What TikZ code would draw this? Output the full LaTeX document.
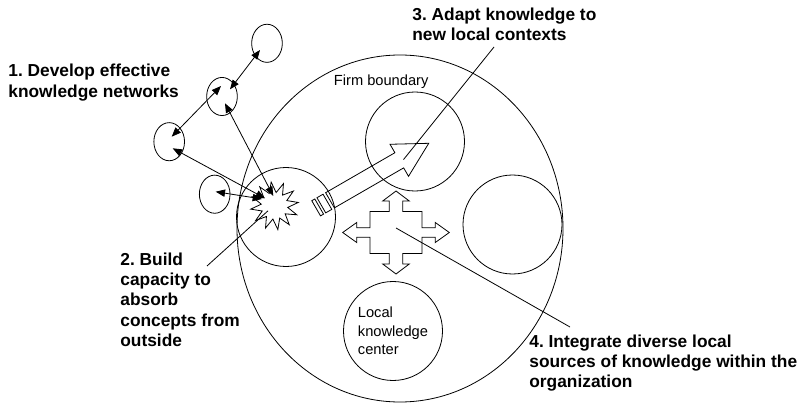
\documentclass[tikz,border=0pt]{standalone}
\usepackage{fontspec}
\setmainfont{Liberation Sans}
\usetikzlibrary{shapes.geometric,arrows.meta}
\frenchspacing

\begin{document}
\begin{tikzpicture}[x=0.75pt,y=-0.75pt,line width=0.6pt,
  contact/.style={draw,ellipse,minimum width=23pt,minimum height=28.6pt,inner sep=0},
  unit/.style={draw,circle,minimum size=74.25pt,inner sep=0},
  link/.style={{Triangle[length=7pt,width=5.5pt]}-{Triangle[length=7pt,width=5.5pt]}},
  note/.style={anchor=north west,inner sep=0,align=left,font=\bfseries\fontsize{13}{15.2}\selectfont},
  tag/.style={anchor=north west,inner sep=0,align=left,font=\fontsize{11}{14}\selectfont}]
\fill[white] (0,0) rectangle (801,403);

% the firm and its local units
\node[draw,ellipse,minimum width=244.5pt,minimum height=260.25pt,inner sep=0] (firm) at (400,228.5) {};
\node[tag] (firmlbl) at (333.5,74.5) {Firm boundary};
\node[unit] (absorb) at (286,217) {};
\node[unit] (adapt) at (415,141.5) {};
\node[unit] (east) at (512.5,224.5) {};
\node[unit,align=left,font=\fontsize{11}{13.9}\selectfont] (lkc) at (393,331) {Local\\knowledge\\center};

% outside contacts
\node[contact] (c1) at (267,43.3) {};
\node[contact] (c2) at (222,96.5) {};
\node[contact] (c3) at (169.2,141.7) {};
\node[contact] (c4) at (214.7,194.2) {};

% point where outside ideas come in
\node[draw,star,star points=12,star point ratio=1.8,minimum size=36pt,inner sep=0,rotate=8] (burst) at (274.5,205.8) {};

% network ties
\draw[link] ([shift={(-7,6.7)}]c1.center) -- ([shift={(8,-7.2)}]c2.center);
\draw[link] ([shift={(-1,-10.5)}]c2.center) -- ([shift={(2.5,-5)}]c3.center);
\draw[link] ([shift={(3,6.8)}]c2.center) -- ([shift={(-1.2,-9.8)}]burst.center);
\draw[link] ([shift={(3.5,6.6)}]c3.center) -- ([shift={(-9.5,-7.5)}]burst.center);
\draw[link] ([shift={(1,-2.5)}]c4.center) -- ([shift={(-12.5,-6.8)}]burst.center);

% striped block arrow towards the adapting unit
\begin{scope}[shift={(330,200.3)},rotate=30]
  \draw (0,-8.75) -- (80,-8.75) -- (80,-18.5) -- (114,0) -- (80,18.5) -- (80,8.75) -- (0,8.75) -- cycle;
  \draw (-10,-8.75) rectangle (-3,8.75);
  \draw (-16,-8.75) rectangle (-12.5,8.75);
  \coordinate (head) at (84,1.5);
\end{scope}

% four-way arrow
\begin{scope}[shift={(396,232.5)}]
  \draw (0,-41.5) -- (13.3,-31.5) -- (6.7,-31.5) -- (6.7,-21) -- (26,-21) -- (26,-4.8)
    -- (39.3,-4.8) -- (39.3,-10) -- (53.3,0) -- (39.3,10) -- (39.3,4.8) -- (26,4.8)
    -- (26,21) -- (6.7,21) -- (6.7,31.5) -- (13.3,31.5) -- (0,41.5) -- (-13.3,31.5)
    -- (-6.7,31.5) -- (-6.7,21) -- (-26,21) -- (-26,4.8) -- (-39.3,4.8) -- (-39.3,10)
    -- (-53.3,0) -- (-39.3,-10) -- (-39.3,-4.8) -- (-26,-4.8) -- (-26,-21) -- (-6.7,-21)
    -- (-6.7,-31.5) -- (-13.3,-31.5) -- cycle;
  \coordinate (hub) at (0,-4.5);
\end{scope}

% numbered notes
\node[note] (lbl1) at (8,64) {1. Develop effective\\knowledge networks};
\node[note] (lbl2) at (120,252.5) {2. Build\\capacity to\\absorb\\concepts from\\outside};
\node[note] (lbl3) at (412,7.5) {3. Adapt knowledge to\\new local contexts};
\node[note] (lbl4) at (529,334.5) {4. Integrate diverse local\\sources of knowledge within the\\organization};

\coordinate (n2) at (207,266);
\coordinate (n3) at (494,47);
\coordinate (n4) at (570,327);
\draw (n2) -- ([shift={(-6.5,5)}]burst.center);
\draw (n3) -- (head);
\draw (hub) -- (n4);
\end{tikzpicture}
\end{document}
